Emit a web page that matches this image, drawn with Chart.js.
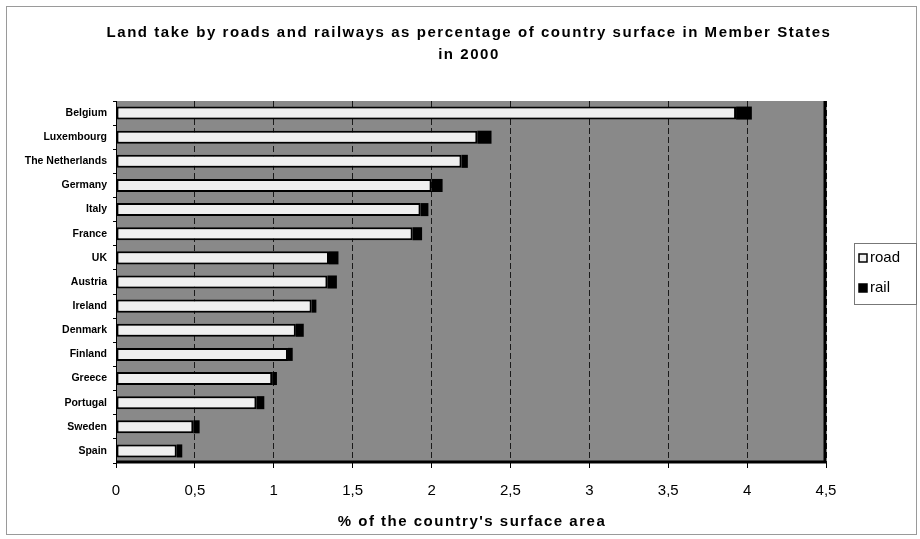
<!DOCTYPE html>
<html>
<head>
<meta charset="utf-8">
<script src="https://cdn.jsdelivr.net/npm/chart.js@4/dist/chart.umd.min.js"></script>
<style>
  html, body { margin: 0; padding: 0; background: #fff; }
  #wrap { width: 920px; height: 539px; }
</style>
</head>
<body>
<div id="wrap"><canvas id="c" width="920" height="539"></canvas></div>
<script>
// Member States, largest land take first
const categories = ['Belgium', 'Luxembourg', 'The Netherlands', 'Germany', 'Italy', 'France', 'UK',
  'Austria', 'Ireland', 'Denmark', 'Finland', 'Greece', 'Portugal', 'Sweden', 'Spain'];

// % of country surface taken by roads
const roadValues = [3.93, 2.29, 2.19, 2.00, 1.93, 1.88, 1.35, 1.34, 1.24, 1.14, 1.09, 0.99, 0.89, 0.49, 0.385];

// % of country surface taken by railways
const railValues = [0.10, 0.09, 0.04, 0.07, 0.05, 0.06, 0.06, 0.06, 0.03, 0.05, 0.03, 0.03, 0.05, 0.04, 0.035];

// x-axis tick labels (decimal comma)
const xTickLabels = ['0', '0,5', '1', '1,5', '2', '2,5', '3', '3,5', '4', '4,5'];

const titleLines = ['Land take by roads and railways as percentage of country surface in Member States', 'in 2000'];
const xAxisTitle = "% of the country's surface area";

const FONT = '"Liberation Sans", Arial, sans-serif';

// outer frame, grey plot background, main title and axis title
const backdrop = {
  id: 'backdrop',
  beforeDraw(chart) {
    const { ctx, chartArea: a } = chart;
    ctx.save();
    ctx.fillStyle = '#ffffff';
    ctx.fillRect(0, 0, chart.width, chart.height);
    ctx.strokeStyle = '#9a9a9a';
    ctx.lineWidth = 1;
    ctx.strokeRect(6.5, 6.5, chart.width - 10, chart.height - 11);
    ctx.fillStyle = '#898989';
    ctx.fillRect(a.left, a.top, a.right - a.left, a.bottom - a.top);
    ctx.fillStyle = '#000';
    ctx.font = 'bold 15px ' + FONT;
    ctx.letterSpacing = '1.55px';
    ctx.textAlign = 'center';
    ctx.textBaseline = 'middle';
    ctx.fillText(titleLines[0], 469, 33);
    ctx.fillText(titleLines[1], 469, 55);
    ctx.letterSpacing = '1.5px';
    ctx.fillText(xAxisTitle, (a.left + a.right) / 2 + 1, 522);
    ctx.restore();
  },
  afterDatasetsDraw(chart) {
    const { ctx, chartArea: a } = chart;
    ctx.save();
    ctx.strokeStyle = '#000';
    ctx.lineWidth = 1;
    ctx.beginPath();
    ctx.moveTo(a.left + 0.5, a.top);
    ctx.lineTo(a.left + 0.5, a.bottom);
    ctx.stroke();
    ctx.lineWidth = 3;
    ctx.beginPath();
    ctx.moveTo(a.right - 1, a.top);
    ctx.lineTo(a.right - 1, a.bottom);
    ctx.moveTo(a.left, a.bottom - 1);
    ctx.lineTo(a.right, a.bottom - 1);
    ctx.stroke();
    ctx.restore();
  }
};

// boxed legend at the right of the plot
const boxLegend = {
  id: 'boxLegend',
  afterDraw(chart) {
    const { ctx } = chart;
    const x = 854, y = 243, w = 62, h = 61;
    ctx.save();
    ctx.fillStyle = '#fff';
    ctx.fillRect(x, y, w, h);
    ctx.strokeStyle = '#777';
    ctx.lineWidth = 1;
    ctx.strokeRect(x + 0.5, y + 0.5, w, h);
    ctx.font = '15px ' + FONT;
    ctx.textBaseline = 'middle';
    ctx.textAlign = 'left';
    chart.data.datasets.forEach((ds, i) => {
      const cy = y + 15 + i * 30;
      ctx.fillStyle = ds.backgroundColor;
      ctx.fillRect(x + 5, cy - 4, 8, 8);
      ctx.strokeStyle = '#000';
      ctx.lineWidth = 1.5;
      ctx.strokeRect(x + 5, cy - 4, 8, 8);
      ctx.fillStyle = '#000';
      ctx.fillText(ds.label, x + 16, cy);
    });
    ctx.restore();
  }
};

new Chart(document.getElementById('c'), {
  type: 'bar',
  data: {
    labels: categories,
    datasets: [
      {
        label: 'road',
        data: roadValues,
        backgroundColor: '#efefef',
        borderColor: '#000',
        borderWidth: 2,
        borderSkipped: false
      },
      {
        label: 'rail',
        data: railValues,
        backgroundColor: '#000',
        borderColor: '#000',
        borderWidth: 0
      }
    ]
  },
  options: {
    indexAxis: 'y',
    responsive: false,
    animation: false,
    devicePixelRatio: 1,
    layout: { padding: { left: 0, right: 94, top: 101, bottom: 0 } },
    categoryPercentage: 1,
    barPercentage: 0.54,
    plugins: {
      legend: { display: false },
      title: { display: false },
      tooltip: { enabled: false }
    },
    scales: {
      x: {
        type: 'linear',
        stacked: true,
        min: 0,
        max: 4.5,
        afterFit(scale) { scale.height = 76; },
        ticks: {
          stepSize: 0.5,
          padding: 14,
          color: '#000',
          font: { family: FONT, size: 15 },
          callback: (v, i) => xTickLabels[i]
        },
        grid: {
          color: '#1a1a1a',
          lineWidth: 1,
          tickLength: 5,
          tickColor: '#000'
        },
        border: { display: false, dash: [6, 3] }
      },
      y: {
        stacked: true,
        afterFit(scale) { scale.width = 116; },
        ticks: {
          color: '#000',
          padding: 6,
          font: { family: FONT, size: 10.5, weight: 'bold' }
        },
        grid: {
          drawOnChartArea: false,
          offset: true,
          tickLength: 3,
          color: '#000'
        },
        border: { display: false }
      }
    }
  },
  plugins: [backdrop, boxLegend]
});
</script>
</body>
</html>
